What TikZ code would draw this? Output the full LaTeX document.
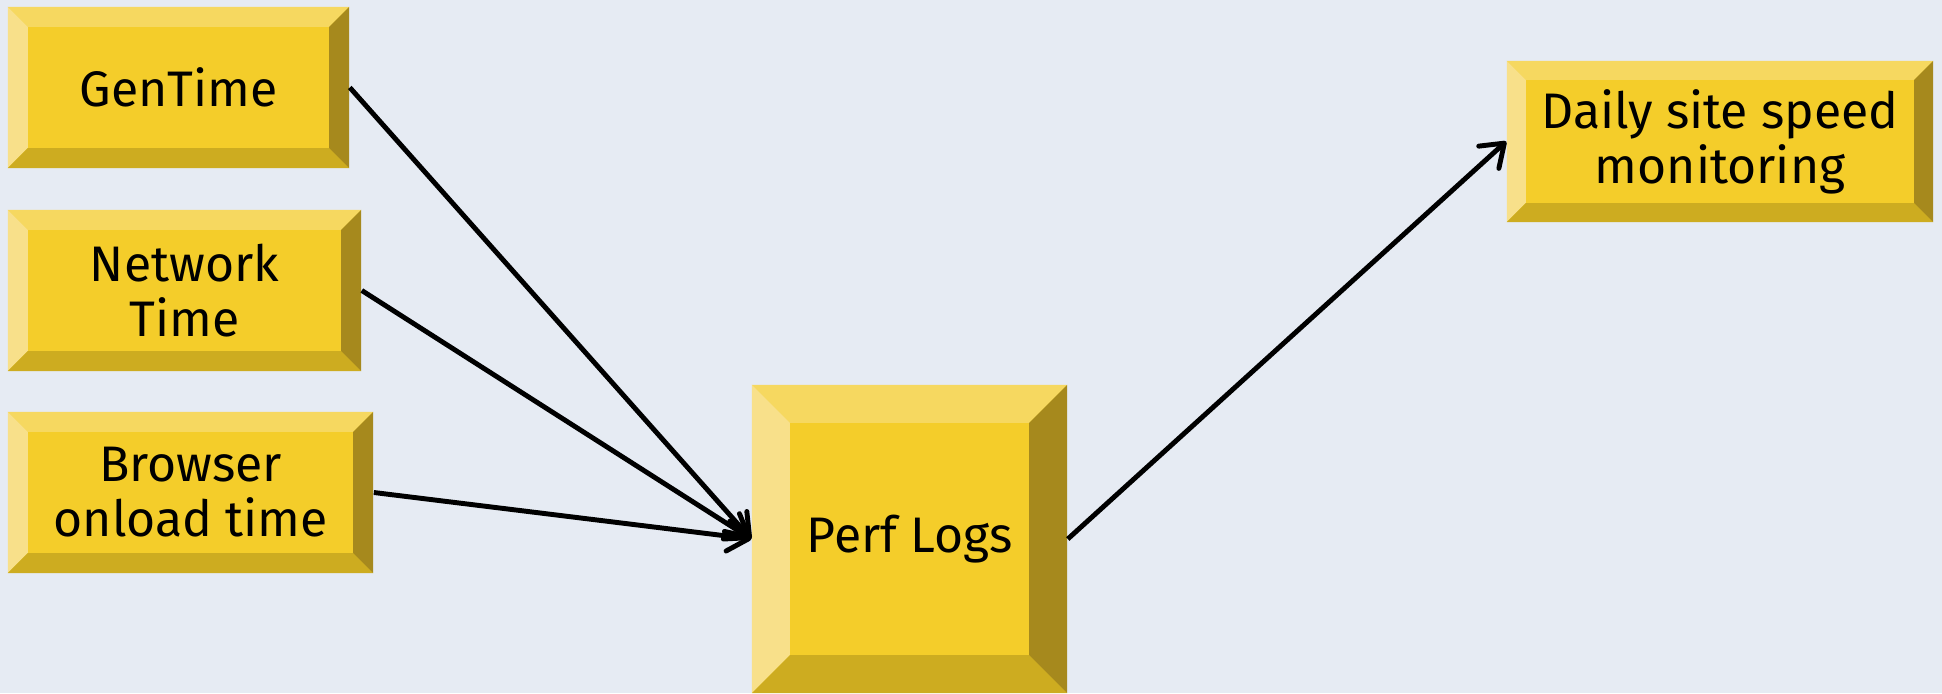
\documentclass[tikz,border=0pt]{standalone}
\usepackage{fontspec}
\setmainfont{Fira Sans}
\usetikzlibrary{arrows.meta}

\definecolor{bgc}{RGB}{230,235,243}
\definecolor{face}{RGB}{244,205,42}
\definecolor{bvtop}{RGB}{246,216,96}
\definecolor{bvleft}{RGB}{248,224,138}
\definecolor{bvbot}{RGB}{205,172,32}
\definecolor{bvright}{RGB}{166,137,29}

\tikzset{
  bvbox/.style n args={3}{minimum width=#1, minimum height=#2, inner sep=0pt,
    fill=face, align=center, font=\fontsize{14.2}{15.6}\selectfont,
    path picture={
      \path (path picture bounding box.north west) coordinate (tl)
            (path picture bounding box.north east) coordinate (tr)
            (path picture bounding box.south west) coordinate (bl)
            (path picture bounding box.south east) coordinate (br);
      \fill[bvtop] (tl) -- (tr) -- ([shift={(-#3,-#3)}]tr) -- ([shift={(#3,-#3)}]tl) -- cycle;
      \fill[bvleft] (tl) -- (bl) -- ([shift={(#3,#3)}]bl) -- ([shift={(#3,-#3)}]tl) -- cycle;
      \fill[bvbot] (bl) -- (br) -- ([shift={(-#3,#3)}]br) -- ([shift={(#3,#3)}]bl) -- cycle;
      \fill[bvright] (tr) -- (br) -- ([shift={(-#3,#3)}]br) -- ([shift={(-#3,-#3)}]tr) -- cycle;
    }},
  conn/.style={line width=1.4pt, -{Straight Barb[length=0.21cm,width=0.3cm,round]}}
}

\begin{document}
\begin{tikzpicture}[x=0.01cm, y=-0.01cm]

\fill[bgc] (0,0) rectangle (1942,693);

\node[bvbox={3.41cm}{1.61cm}{0.2cm}] (gentime) at (178.5,87.5) {GenTime};
\node[bvbox={3.53cm}{1.61cm}{0.2cm}] (nettime) at (184.5,290.5) {Network\\Time};
\node[bvbox={3.65cm}{1.61cm}{0.2cm}] (onload) at (190.5,492.5) {Browser\\onload time};
\node[bvbox={3.15cm}{3.08cm}{0.38cm}] (perflogs) at (909.5,539) {Perf Logs};
\node[bvbox={4.26cm}{1.61cm}{0.19cm}] (daily) at (1720,141.5) {Daily site speed\\monitoring};

\draw[conn] (gentime.east) -- (perflogs.west);
\draw[conn] (nettime.east) -- (perflogs.west);
\draw[conn] (onload.east) -- (perflogs.west);
\draw[conn] (perflogs.east) -- (daily.west);

\end{tikzpicture}
\end{document}
